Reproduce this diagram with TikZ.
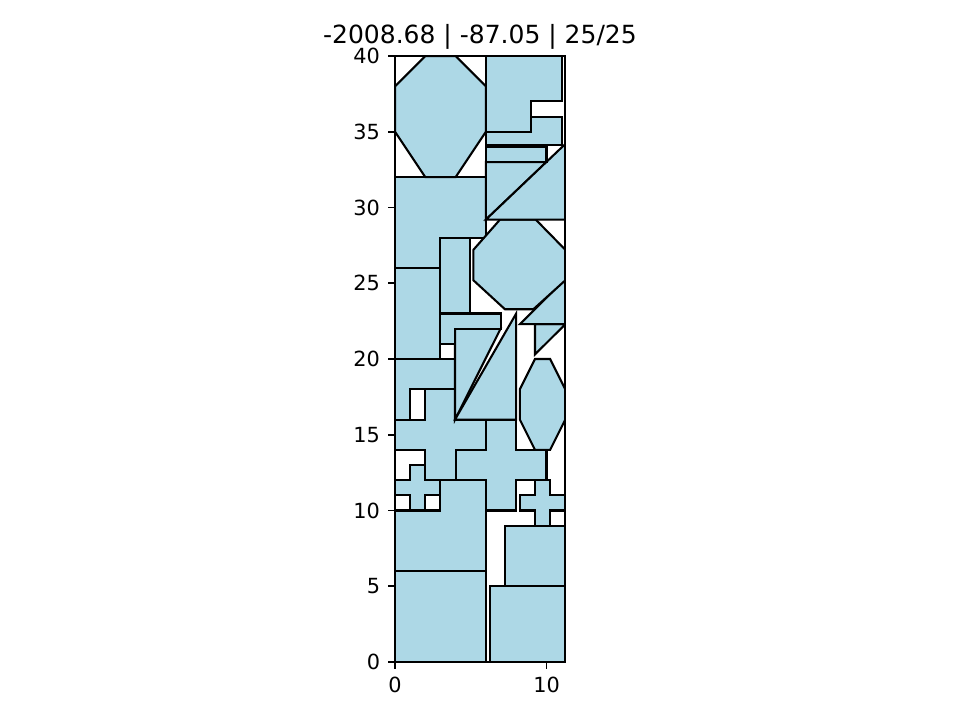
\documentclass[tikz,border=0pt]{standalone}
\usepackage{fontspec}
\setmainfont{DejaVu Sans}
\definecolor{pieceblue}{HTML}{ADD8E6}
\begin{document}
\begin{tikzpicture}[x=7.272pt,y=7.272pt,
  piece/.style={fill=pieceblue, draw=black, line width=1pt, line join=miter},
  spine/.style={draw=black, line width=0.8pt, line cap=rect},
  axtick/.style={draw=black, line width=0.8pt},
  ticklab/.style={font=\fontsize{10}{12}\selectfont, inner sep=0pt},
  titlelab/.style={font=\fontsize{12}{14}\selectfont, inner sep=0pt}]
\useasboundingbox (-26.073,-3.828) rectangle (37.294,43.696);
\def\xmax{11.22}
\begin{scope}
\clip (0,0) rectangle (\xmax,40);
% bottom rectangles
\draw[piece] (0,0) rectangle (6,6);
\draw[piece] (6.27,0) rectangle (11.25,5);
\draw[piece] (7.26,5) rectangle (11.25,9);
% L shape
\draw[piece] (0,6) -- (6,6) -- (6,12) -- (3,12) -- (3,10) -- (0,10) -- cycle;
% small crosses
\draw[piece] (1,10) -- (2,10) -- (2,11) -- (3,11) -- (3,12) -- (2,12) -- (2,13) -- (1,13) -- (1,12) -- (0,12) -- (0,11) -- (1,11) -- cycle;
\draw[piece] (9.24,9) -- (10.24,9) -- (10.24,10) -- (11.24,10) -- (11.24,11) -- (10.24,11) -- (10.24,12) -- (9.24,12) -- (9.24,11) -- (8.24,11) -- (8.24,10) -- (9.24,10) -- cycle;
% big crosses
\draw[piece] (2,12) -- (4,12) -- (4,14) -- (6,14) -- (6,16) -- (4,16) -- (4,18) -- (2,18) -- (2,16) -- (0,16) -- (0,14) -- (2,14) -- cycle;
\draw[piece] (6,10) -- (8,10) -- (8,12) -- (10,12) -- (10,14) -- (8,14) -- (8,16) -- (6,16) -- (6,14) -- (4,14) -- (4,12) -- (6,12) -- cycle;
% octagon right
\draw[piece] (9.24,20) -- (10.24,20) -- (11.24,18) -- (11.24,16) -- (10.24,14) -- (9.24,14) -- (8.24,16) -- (8.24,18) -- cycle;
% L shape A
\draw[piece] (0,20) -- (3.96,20) -- (3.96,18) -- (1,18) -- (1,16) -- (0,16) -- cycle;
% triangles
\draw[piece] (3.96,16) -- (3.96,22) -- (6.97,22) -- cycle;
\draw[piece] (3.96,16) -- (8,23) -- (8,16) -- cycle;
% L shape R
\draw[piece] (2.97,23) -- (6.97,23) -- (6.97,22) -- (3.96,22) -- (3.96,21) -- (2.97,21) -- cycle;
% left column
\draw[piece] (0,20) rectangle (2.97,26);
\draw[piece] (2.97,23) rectangle (4.93,28);
\draw[piece] (0,32) -- (6,32) -- (6,28) -- (2.97,28) -- (2.97,26) -- (0,26) -- cycle;
% right triangles
\draw[piece] (9.24,22.3) -- (11.25,22.3) -- (9.24,20.3) -- cycle;
\draw[piece] (8.25,22.3) -- (11.25,25.3) -- (11.25,22.3) -- cycle;
% octagon middle
\draw[piece] (6.93,29.2) -- (9.29,29.2) -- (11.25,27.2) -- (11.25,25.2) -- (9.13,23.28) -- (7.26,23.28) -- (5.17,25.2) -- (5.17,27.2) -- cycle;
% upper triangles
\draw[piece] (6,29.2) -- (6,33) -- (10,33) -- cycle;
\draw[piece] (6,29.2) -- (11.25,34.2) -- (11.25,29.2) -- cycle;
% upper right pieces
\draw[piece] (6,33) rectangle (10,34);
\draw[piece] (6,34.1) -- (6,35) -- (9,35) -- (9,36) -- (11,36) -- (11,34.1) -- cycle;
\draw[piece] (6,35) -- (6,40) -- (11,40) -- (11,37) -- (9,37) -- (9,35) -- cycle;
% octagon top
\draw[piece] (2,40) -- (4,40) -- (6,38) -- (6,35) -- (4,32) -- (2,32) -- (0,35) -- (0,38) -- cycle;
\end{scope}
% axes frame
\draw[spine] (0,0) rectangle (\xmax,40);
% y ticks
\foreach \v in {0,5,...,40} {
  \draw[axtick] (0,\v) -- ++(-3.5pt,0);
  \node[ticklab, anchor=east] (ylab\v) at ([xshift=-7pt]0,\v) {\v};
}
% x ticks
\foreach \v in {0,10} {
  \draw[axtick] (\v,0) -- ++(0,-3.5pt);
  \node[ticklab, anchor=north] (xlab\v) at ([yshift=-7pt]\v,0) {\v};
}
\node[titlelab, anchor=base] (title) at ([yshift=6pt]5.61,40) {-2008.68 | -87.05 | 25/25};
\end{tikzpicture}
\end{document}
